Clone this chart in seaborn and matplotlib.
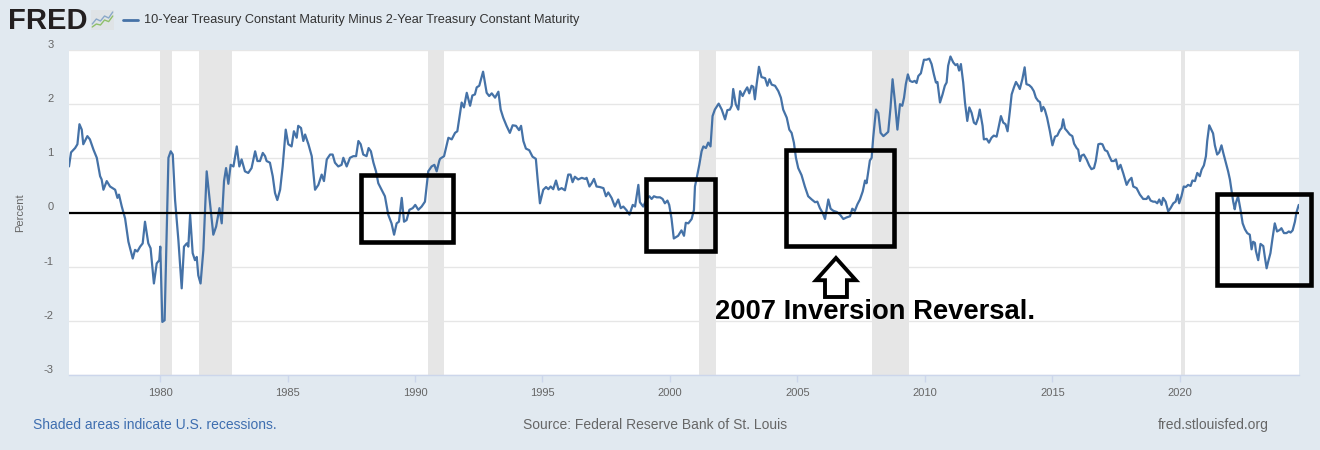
import numpy as np
import pandas as pd
import matplotlib
matplotlib.use("Agg")
import matplotlib.pyplot as plt
from matplotlib.patches import Rectangle, Polygon
from matplotlib.lines import Line2D
import matplotlib.transforms as mtransforms
import seaborn as sns

# ---------------- data ----------------
yr_a = [1976.43, 1976.51, 1976.67, 1976.76, 1976.84, 1976.93, 1976.99, 1977.15, 1977.25, 1977.39,
        1977.52, 1977.65, 1977.71, 1977.78, 1977.91, 1978.04, 1978.24, 1978.33, 1978.39, 1978.50,
        1978.63, 1978.76, 1978.93, 1979.02, 1979.11, 1979.22, 1979.32, 1979.41, 1979.54, 1979.63,
        1979.76, 1979.87, 1979.97, 1980.01, 1980.09, 1980.18, 1980.33, 1980.42, 1980.50, 1980.59,
        1980.72, 1980.85, 1980.94, 1981.05, 1981.11, 1981.18, 1981.28, 1981.37, 1981.44, 1981.50,
        1981.59, 1981.70, 1981.83, 1981.96, 1982.09, 1982.20, 1982.33, 1982.42, 1982.51, 1982.59,
        1982.68, 1982.77, 1982.88, 1983.01, 1983.11, 1983.20, 1983.33, 1983.46, 1983.59, 1983.73,
        1983.82, 1983.92]
val_a = [0.85, 1.11, 1.19, 1.26, 1.63, 1.53, 1.26, 1.41, 1.35, 1.16,
         1.01, 0.67, 0.61, 0.42, 0.58, 0.48, 0.42, 0.27, 0.33, 0.11,
         -0.11, -0.54, -0.85, -0.69, -0.72, -0.63, -0.57, -0.17, -0.57, -0.66,
         -1.31, -0.94, -0.88, -0.63, -2.02, -1.99, 1.01, 1.13, 1.07, 0.23,
         -0.51, -1.40, -0.63, -0.57, -0.63, -0.04, -0.75, -0.88, -0.82, -1.16,
         -1.31, -0.69, 0.76, 0.17, -0.41, -0.26, 0.08, -0.20, 0.58, 0.82,
         0.53, 0.88, 0.85, 1.22, 0.85, 0.98, 0.76, 0.73, 0.82, 1.13,
         0.95, 0.95]

yr_b = [1984.03, 1984.12, 1984.18, 1984.31, 1984.42, 1984.51, 1984.60, 1984.71, 1984.81, 1984.93,
        1985.03, 1985.16, 1985.25, 1985.36, 1985.42, 1985.53, 1985.62, 1985.69, 1985.82, 1985.95,
        1986.08, 1986.21, 1986.34, 1986.43, 1986.54, 1986.67, 1986.77, 1986.86, 1986.99, 1987.12,
        1987.19, 1987.32, 1987.45, 1987.58, 1987.69, 1987.78, 1987.87, 1987.97, 1988.10, 1988.18,
        1988.27, 1988.37, 1988.47, 1988.56, 1988.69, 1988.82, 1988.95, 1989.08, 1989.18, 1989.28,
        1989.37, 1989.48, 1989.57, 1989.67, 1989.78, 1989.91, 1990.01, 1990.13, 1990.26, 1990.39,
        1990.52, 1990.65, 1990.76, 1990.85, 1990.95]
val_b = [1.10, 1.04, 0.95, 0.92, 0.67, 0.36, 0.23, 0.42, 0.85, 1.53,
         1.26, 1.22, 1.50, 1.38, 1.60, 1.56, 1.32, 1.44, 1.26, 1.04,
         0.42, 0.51, 0.70, 0.58, 0.98, 1.07, 1.07, 0.92, 0.85, 0.88,
         1.01, 0.85, 1.01, 1.04, 1.04, 1.32, 1.26, 1.07, 1.04, 1.19,
         1.13, 0.92, 0.76, 0.54, 0.42, 0.30, -0.04, -0.20, -0.41, -0.20,
         -0.17, 0.27, -0.17, -0.14, 0.05, 0.08, 0.14, 0.05, 0.11, 0.20,
         0.76, 0.85, 0.88, 0.76, 0.95]

yr_c = [1990.98, 1991.14, 1991.31, 1991.44, 1991.57, 1991.66, 1991.83, 1991.92, 1992.03, 1992.16,
        1992.25, 1992.35, 1992.42, 1992.52, 1992.67, 1992.81, 1992.91, 1993.01, 1993.14, 1993.27,
        1993.36, 1993.46, 1993.59, 1993.72, 1993.83, 1993.96, 1994.08, 1994.16, 1994.25, 1994.35,
        1994.48, 1994.61, 1994.74, 1994.81, 1994.90, 1995.03, 1995.14, 1995.23, 1995.32, 1995.42,
        1995.53, 1995.63, 1995.75, 1995.88, 1996.01, 1996.10, 1996.18, 1996.27, 1996.40, 1996.54,
        1996.67, 1996.73, 1996.84, 1996.93, 1997.02, 1997.12, 1997.25, 1997.39, 1997.49, 1997.58,
        1997.71, 1997.84, 1997.97, 1998.07, 1998.17, 1998.30, 1998.41, 1998.54, 1998.63, 1998.76,
        1998.82, 1998.95, 1999.08, 1999.19, 1999.28, 1999.37, 1999.48, 1999.61, 1999.71, 1999.80,
        1999.90]
val_c = [0.99, 1.04, 1.38, 1.35, 1.47, 1.50, 2.03, 1.94, 2.21, 1.97,
         2.16, 2.18, 2.31, 2.34, 2.60, 2.21, 2.15, 2.20, 2.12, 2.23,
         1.90, 1.75, 1.60, 1.47, 1.61, 1.60, 1.52, 1.60, 1.32, 1.18,
         1.15, 1.03, 0.99, 0.61, 0.17, 0.42, 0.47, 0.43, 0.48, 0.43,
         0.59, 0.42, 0.45, 0.41, 0.70, 0.70, 0.56, 0.66, 0.61, 0.64,
         0.62, 0.64, 0.48, 0.54, 0.62, 0.48, 0.47, 0.45, 0.30, 0.37,
         0.27, 0.11, 0.24, 0.08, 0.11, 0.04, -0.04, 0.14, 0.11, 0.51,
         0.19, 0.11, 0.24, 0.30, 0.25, 0.30, 0.28, 0.28, 0.25, 0.17,
         0.22]

yr_d = [1999.97, 2000.06, 2000.15, 2000.32, 2000.45, 2000.55, 2000.62, 2000.72, 2000.85, 2000.94,
        2000.98, 2001.05, 2001.15, 2001.24, 2001.31, 2001.41, 2001.50, 2001.59, 2001.67, 2001.76,
        2001.91, 2002.03, 2002.16, 2002.25, 2002.35, 2002.42, 2002.48, 2002.58, 2002.68, 2002.75,
        2002.85, 2002.94, 2003.03, 2003.11, 2003.20, 2003.27, 2003.33, 2003.40, 2003.49, 2003.59,
        2003.73, 2003.82, 2003.90, 2003.99, 2004.12, 2004.25, 2004.35, 2004.44, 2004.58, 2004.68,
        2004.77, 2004.86, 2004.94]
val_d = [0.14, -0.11, -0.48, -0.43, -0.33, -0.43, -0.19, -0.20, -0.12, 0.05,
         0.48, 0.64, 0.88, 1.13, 1.22, 1.19, 1.29, 1.22, 1.78, 1.90,
         2.01, 1.90, 1.72, 1.89, 1.90, 1.97, 2.28, 2.00, 1.90, 2.24,
         2.15, 2.24, 2.31, 2.20, 2.34, 2.32, 2.09, 2.37, 2.69, 2.50,
         2.48, 2.34, 2.46, 2.36, 2.34, 2.24, 2.12, 1.90, 1.75, 1.53,
         1.47, 1.29, 1.01]

yr_e = [2005.03, 2005.16, 2005.29, 2005.42, 2005.56, 2005.69, 2005.78, 2005.88, 2005.99, 2006.08,
        2006.21, 2006.30, 2006.41, 2006.54, 2006.67, 2006.80, 2006.93, 2007.06, 2007.15, 2007.25,
        2007.35, 2007.45, 2007.56, 2007.65, 2007.71, 2007.78, 2007.84, 2007.91, 2007.97, 2008.08,
        2008.17, 2008.26, 2008.37, 2008.47, 2008.56, 2008.65, 2008.73, 2008.82, 2008.92, 2009.02,
        2009.11, 2009.18, 2009.25, 2009.33]
val_e = [0.82, 0.69, 0.48, 0.30, 0.24, 0.19, 0.20, 0.08, -0.01, -0.12,
         0.24, 0.07, 0.03, 0.01, -0.04, -0.12, -0.09, -0.07, 0.07, 0.03,
         0.15, 0.24, 0.39, 0.59, 0.54, 0.76, 0.96, 1.01, 1.38, 1.90,
         1.84, 1.47, 1.41, 1.45, 1.49, 1.94, 2.46, 2.06, 1.53, 2.00,
         1.97, 2.12, 2.37, 2.55]

yr_f = [2009.41, 2009.51, 2009.60, 2009.67, 2009.74, 2009.84, 2009.96, 2010.06, 2010.17, 2010.26,
        2010.35, 2010.43, 2010.49, 2010.59, 2010.69, 2010.78, 2010.85, 2010.91, 2011.00, 2011.11,
        2011.20, 2011.27, 2011.34, 2011.41, 2011.50, 2011.57, 2011.66, 2011.74, 2011.83, 2011.92,
        2012.00, 2012.09, 2012.15, 2012.26, 2012.31, 2012.42, 2012.51, 2012.61, 2012.70, 2012.81,
        2012.87, 2012.98, 2013.07, 2013.16, 2013.24, 2013.33, 2013.40, 2013.49, 2013.57, 2013.66,
        2013.72, 2013.82, 2013.91, 2013.98]
val_f = [2.43, 2.41, 2.43, 2.39, 2.52, 2.57, 2.82, 2.82, 2.84, 2.74,
         2.55, 2.40, 2.41, 2.03, 2.18, 2.34, 2.40, 2.71, 2.88, 2.77,
         2.72, 2.74, 2.62, 2.74, 2.40, 2.03, 1.69, 1.94, 1.84, 1.66,
         1.63, 1.75, 1.90, 1.60, 1.35, 1.36, 1.29, 1.38, 1.42, 1.40,
         1.53, 1.78, 1.66, 1.63, 1.50, 1.87, 2.18, 2.31, 2.41, 2.34,
         2.28, 2.46, 2.68, 2.37]

yr_g = [2014.09, 2014.18, 2014.27, 2014.35, 2014.44, 2014.51, 2014.57, 2014.64, 2014.70, 2014.79,
        2014.90, 2015.00, 2015.10, 2015.19, 2015.29, 2015.36, 2015.42, 2015.49, 2015.58, 2015.68,
        2015.78, 2015.85, 2015.95, 2016.01, 2016.08, 2016.14, 2016.23, 2016.34, 2016.44, 2016.53,
        2016.63, 2016.70, 2016.80, 2016.88, 2016.96, 2017.06, 2017.15, 2017.23, 2017.32, 2017.41,
        2017.49, 2017.58, 2017.67, 2017.78, 2017.91, 2018.00, 2018.10, 2018.17, 2018.30, 2018.43,
        2018.56, 2018.69, 2018.76, 2018.85, 2018.95, 2019.03, 2019.11, 2019.19, 2019.28, 2019.34,
        2019.44, 2019.54, 2019.63, 2019.74, 2019.83, 2019.91, 2019.97]
val_g = [2.35, 2.31, 2.24, 2.12, 2.06, 2.04, 1.87, 1.95, 1.90, 1.75,
         1.50, 1.24, 1.40, 1.42, 1.52, 1.56, 1.72, 1.55, 1.50, 1.44,
         1.41, 1.27, 1.19, 1.16, 0.95, 1.05, 1.07, 0.98, 0.87, 0.80,
         0.82, 0.95, 1.26, 1.27, 1.26, 1.15, 1.13, 1.04, 0.95, 0.95,
         0.98, 0.80, 0.88, 0.72, 0.51, 0.59, 0.64, 0.48, 0.45, 0.33,
         0.25, 0.25, 0.30, 0.22, 0.20, 0.20, 0.17, 0.24, 0.14, 0.27,
         0.20, 0.02, 0.08, 0.17, 0.20, 0.33, 0.17]

yr_h = [2020.06, 2020.15, 2020.23, 2020.32, 2020.42, 2020.49, 2020.59, 2020.68, 2020.78, 2020.85,
        2020.94, 2021.02, 2021.07, 2021.15, 2021.24, 2021.30, 2021.37, 2021.46, 2021.54, 2021.63,
        2021.70, 2021.80, 2021.89, 2021.96, 2022.02, 2022.09, 2022.15, 2022.19, 2022.28, 2022.38,
        2022.46, 2022.55, 2022.64, 2022.74, 2022.81, 2022.87, 2022.94, 2022.98, 2023.07, 2023.16,
        2023.27, 2023.33, 2023.40, 2023.46, 2023.55, 2023.63, 2023.72, 2023.81, 2023.92, 2023.98,
        2024.08, 2024.18, 2024.27, 2024.34, 2024.42, 2024.51, 2024.57, 2024.66]
val_h = [0.30, 0.48, 0.47, 0.51, 0.49, 0.59, 0.58, 0.73, 0.67, 0.79,
         0.87, 1.04, 1.32, 1.61, 1.52, 1.46, 1.24, 1.07, 1.11, 1.24,
         1.10, 0.92, 0.76, 0.61, 0.42, 0.20, 0.06, 0.17, 0.30, 0.04,
         -0.20, -0.31, -0.38, -0.41, -0.68, -0.54, -0.56, -0.71, -0.88, -0.58,
         -0.62, -0.82, -1.03, -0.91, -0.75, -0.48, -0.20, -0.35, -0.32, -0.29,
         -0.38, -0.38, -0.35, -0.37, -0.33, -0.17, 0.00, 0.14]

recession_start = [1980.00, 1981.52, 1990.50, 2001.15, 2007.91, 2020.06]
recession_end = [1980.48, 1982.84, 1991.14, 2001.80, 2009.39, 2020.21]

x_ticks = [1980, 1985, 1990, 1995, 2000, 2005, 2010, 2015, 2020]
x_tick_labels = ["1980", "1985", "1990", "1995", "2000", "2005", "2010", "2015", "2020"]
y_ticks = [-3, -2, -1, 0, 1, 2, 3]
y_tick_labels = ["-3", "-2", "-1", "0", "1", "2", "3"]

# annotation boxes: (x_left, x_right, y_bottom, y_top) in data units
box_x0 = [1987.88, 1999.06, 2004.55, 2021.45]
box_x1 = [1991.49, 2001.76, 2008.78, 2025.13]
box_y0 = [-0.54, -0.71, -0.62, -1.34]
box_y1 = [0.70, 0.61, 1.16, 0.35]

series_title = "10-Year Treasury Constant Maturity Minus 2-Year Treasury Constant Maturity"

# ---------------- build frame ----------------
years = yr_a + yr_b + yr_c + yr_d + yr_e + yr_f + yr_g + yr_h
values = val_a + val_b + val_c + val_d + val_e + val_f + val_g + val_h
df = pd.DataFrame({"year": years, "spread": values})

sns.set_theme(style="white")
plt.rcParams['font.family'] = ['Liberation Sans', 'DejaVu Sans']

BG = '#e1e9f0'
W, H = 1320, 450
fig = plt.figure(figsize=(13.2, 4.5), dpi=100, facecolor=BG)
ax = fig.add_axes([69 / W, 75 / H, 1230 / W, 325 / H])
ax.set_facecolor('white')

for s, e in zip(recession_start, recession_end):
    ax.axvspan(s, e, color='#e6e6e6', lw=0, zorder=0)

sns.lineplot(data=df, x="year", y="spread", ax=ax, color='#4572a7', lw=1.6,
             estimator=None, sort=False, zorder=2)

ax.axhline(0, color='black', lw=1.6, zorder=3)

ax.set_xlim(1976.43, 2024.67)
ax.set_ylim(-3, 3)
ax.set_xlabel('')
ax.set_ylabel('')

ax.set_yticks(y_ticks)
ax.set_yticklabels(y_tick_labels, color='#666666', fontsize=8)
ax.set_xticks(x_ticks)
ax.set_xticklabels(x_tick_labels, color='#666666', fontsize=8)
ax.tick_params(axis='y', length=0, pad=11)
ax.tick_params(axis='x', length=5, width=1, color='#ccd6eb', direction='out', pad=4, bottom=True)
ax.yaxis.grid(True, color='#e6e6e6', lw=1, zorder=0.5)
ax.xaxis.grid(False)
ax.set_axisbelow(True)

offset = mtransforms.ScaledTranslation(0, 6 / 100, fig.dpi_scale_trans)
for lab in ax.get_yticklabels():
    lab.set_transform(lab.get_transform() + offset)

for side in ['top', 'left', 'right']:
    ax.spines[side].set_visible(False)
ax.spines['bottom'].set_color('#ccd6eb')
ax.spines['bottom'].set_linewidth(1)

# annotation rectangles
for x0, x1, y0, y1 in zip(box_x0, box_x1, box_y0, box_y1):
    ax.add_patch(Rectangle((x0, y0), x1 - x0, y1 - y0, fill=False, ec='black',
                           lw=3.3, clip_on=False, zorder=5, joinstyle='miter'))

# up arrow outline
arrow_pts = [(2006.51, -0.84), (2007.29, -1.25), (2006.94, -1.25), (2006.94, -1.56),
             (2006.08, -1.56), (2006.08, -1.25), (2005.73, -1.25)]
ax.add_patch(Polygon(arrow_pts, closed=True, fc='white', ec='black', lw=2.8,
                     joinstyle='miter', zorder=5))

ax.text(2008.04, -1.84, "2007 Inversion Reversal.", ha='center', va='center',
        fontsize=19.7, fontweight='bold', color='black', zorder=6)

# y label
fig.text(20 / W, 1 - 213 / H, "Percent", rotation=90, ha='center', va='center',
         fontsize=8, color='#666666')

# header
fig.text(8 / W, 1 - 21 / H, "FRED", fontsize=21, fontweight='bold', color='#231f20',
         va='center', ha='left')
icon = fig.add_axes([91 / W, 1 - 30 / H, 23 / W, 20 / H])
icon.set_facecolor('#dfe3e6')
icon_x = [0, 1, 2, 3, 4, 5]
icon_blue = [0.3, 0.55, 0.45, 0.7, 0.6, 0.9]
icon_green = [0.15, 0.3, 0.25, 0.5, 0.42, 0.7]
icon.plot(icon_x, icon_blue, color='#8aa8c8', lw=1)
icon.plot(icon_x, icon_green, color='#8fbf6a', lw=1)
icon.set_xlim(-0.3, 5.3)
icon.set_ylim(0, 1)
icon.set_xticks([])
icon.set_yticks([])
for sp in icon.spines.values():
    sp.set_visible(False)

fig.add_artist(Line2D([123 / W, 138 / W], [1 - 20 / H, 1 - 20 / H], color='#4572a7', lw=2))
fig.text(144 / W, 1 - 20 / H, series_title, fontsize=9.2, color='#333333', va='center', ha='left')

# footer
fig.text(33 / W, 1 - 425 / H, "Shaded areas indicate U.S. recessions.", fontsize=10,
         color='#3e6eb0', va='center', ha='left')
fig.text(655 / W, 1 - 425 / H, "Source: Federal Reserve Bank of St. Louis", fontsize=10,
         color='#666666', va='center', ha='center')
fig.text(1269 / W, 1 - 425 / H, "fred.stlouisfed.org", fontsize=10,
         color='#666666', va='center', ha='right')

fig.savefig("out.png", dpi=100, facecolor=BG)
